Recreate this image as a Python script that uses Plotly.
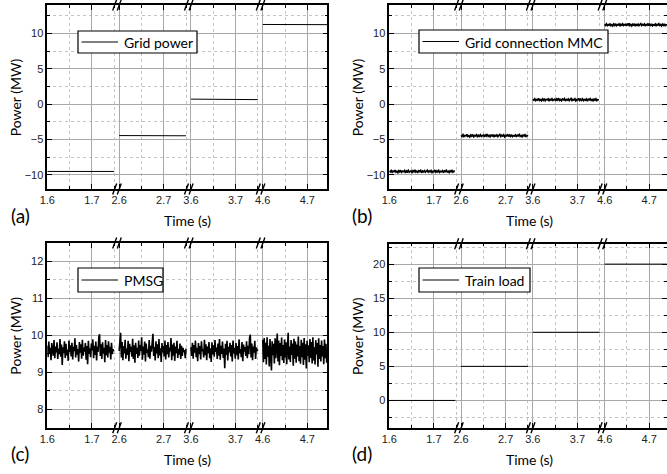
import numpy as np
import plotly.graph_objects as go

W, H = 667, 474

# ---------------- data ----------------
seg_starts = [1.6, 2.6, 3.6, 4.6]

grid_power_end = [1.75, 2.75, 3.75, 4.745]
grid_power = [[-9.52, -9.52], [-4.45, -4.48], [0.70, 0.63], [11.25, 11.22]]

mmc_end = [1.747, 2.75, 3.748, 4.74]
mmc_seg1 = [-9.44, -9.58, -9.39, -9.63, -9.47, -9.55, -9.33, -9.61, -9.50, -9.68, -9.42, -9.57, -9.36, -9.64,
            -9.49, -9.53, -9.40, -9.72, -9.46, -9.59, -9.38, -9.62, -9.51, -9.45, -9.66, -9.41, -9.56, -9.30,
            -9.60, -9.48, -9.65, -9.43, -9.54, -9.37, -9.70, -9.47, -9.58, -9.42, -9.63, -9.52, -9.35, -9.61,
            -9.46, -9.57, -9.40, -9.67, -9.49, -9.55, -9.32, -9.62, -9.44, -9.59, -9.38, -9.64, -9.50, -9.56,
            -9.41, -9.69, -9.45, -9.53, -9.36, -9.60, -9.48, -9.66, -9.43, -9.57, -9.39, -9.62, -9.47, -9.51]
mmc_seg2 = [-4.40, -4.55, -4.33, -4.58, -4.44, -4.50, -4.28, -4.57, -4.46, -4.63, -4.37, -4.52, -4.31, -4.60,
            -4.45, -4.49, -4.35, -4.67, -4.41, -4.54, -4.34, -4.58, -4.47, -4.39, -4.62, -4.36, -4.51, -4.25,
            -4.56, -4.43, -4.61, -4.38, -4.50, -4.32, -4.65, -4.42, -4.53, -4.37, -4.59, -4.48, -4.30, -4.57,
            -4.41, -4.52, -4.35, -4.63, -4.44, -4.50, -4.27, -4.58, -4.39, -4.55, -4.33, -4.60, -4.46, -4.51,
            -4.36, -4.64, -4.40, -4.48, -4.31, -4.56, -4.43, -4.61, -4.38, -4.52, -4.34, -4.58, -4.45, -4.55]
mmc_seg3 = [0.68, 0.54, 0.74, 0.50, 0.64, 0.57, 0.79, 0.51, 0.62, 0.46, 0.71, 0.55, 0.77, 0.49, 0.65, 0.60,
            0.73, 0.42, 0.67, 0.56, 0.75, 0.52, 0.63, 0.69, 0.47, 0.72, 0.58, 0.82, 0.53, 0.66, 0.48, 0.70,
            0.59, 0.76, 0.44, 0.66, 0.55, 0.71, 0.50, 0.61, 0.78, 0.52, 0.67, 0.57, 0.73, 0.45, 0.64, 0.58,
            0.80, 0.51, 0.69, 0.54, 0.74, 0.49, 0.63, 0.56, 0.72, 0.43, 0.68, 0.59, 0.76, 0.53, 0.65, 0.47,
            0.70, 0.55, 0.75, 0.50, 0.62, 0.58]
mmc_seg4 = [11.26, 11.12, 11.32, 11.08, 11.22, 11.15, 11.37, 11.09, 11.20, 11.04, 11.29, 11.13, 11.35, 11.07,
            11.23, 11.18, 11.31, 11.00, 11.25, 11.14, 11.33, 11.10, 11.21, 11.27, 11.05, 11.30, 11.16, 11.40,
            11.11, 11.24, 11.06, 11.28, 11.17, 11.34, 11.02, 11.24, 11.13, 11.29, 11.08, 11.19, 11.36, 11.10,
            11.25, 11.15, 11.31, 11.03, 11.22, 11.16, 11.38, 11.09, 11.27, 11.12, 11.32, 11.07, 11.21, 11.14,
            11.30, 11.01, 11.26, 11.17, 11.34, 11.11, 11.23, 11.05, 11.28, 11.13, 11.33, 11.08, 11.20, 11.16]
mmc_power = [mmc_seg1, mmc_seg2, mmc_seg3, mmc_seg4]

pmsg_end = [1.749, 2.75, 3.75, 4.745]
pmsg_seg1 = [9.72, 9.41, 9.83, 9.50, 9.66, 9.33, 9.79, 9.58, 9.45, 9.87, 9.38, 9.70, 9.54, 9.81, 9.36, 9.64,
             9.49, 9.90, 9.42, 9.75, 9.20, 9.68, 9.52, 9.84, 9.39, 9.77, 9.46, 9.61, 9.31, 9.86, 9.55, 9.73,
             9.43, 9.80, 9.35, 9.69, 9.57, 9.92, 9.40, 9.74, 9.48, 9.63, 9.29, 9.82, 9.53, 9.76, 9.37, 9.88,
             9.45, 9.67, 9.56, 9.79, 9.34, 9.71, 9.22, 9.85, 9.50, 9.65, 9.41, 9.78, 9.59, 9.89, 9.38, 9.72,
             9.47, 9.83, 9.32, 9.70, 9.55, 9.96, 10.03, 9.44, 9.76, 9.36, 9.81, 9.51, 9.66, 9.27, 9.87, 9.46,
             9.74, 9.40, 9.84, 9.53, 9.69, 9.35, 9.80, 9.49, 9.62, 9.57]
pmsg_seg2 = [9.58, 9.75, 10.07, 9.40, 9.82, 9.33, 9.71, 9.52, 9.88, 9.37, 9.64, 9.47, 9.85, 9.30, 9.77, 9.55,
             9.69, 9.42, 9.91, 9.36, 9.73, 9.26, 9.80, 9.50, 9.66, 9.39, 9.86, 9.45, 9.74, 9.58, 9.95, 9.34,
             9.70, 9.48, 9.83, 9.29, 9.78, 9.53, 9.62, 9.41, 9.87, 9.37, 9.72, 9.56, 9.81, 10.04, 9.44, 9.68,
             9.32, 9.84, 9.51, 9.76, 9.38, 9.90, 9.46, 9.65, 9.28, 9.79, 9.54, 9.71, 9.43, 9.86, 9.35, 9.74,
             9.49, 9.82, 9.40, 9.67, 9.57, 9.93, 9.33, 9.75, 9.45, 9.80, 9.31, 9.70, 9.52, 9.85, 9.39, 9.63,
             9.48, 9.78, 9.36, 9.72, 9.44, 9.66, 9.55, 9.60, 9.38, 9.64]
pmsg_seg3 = [9.68, 9.44, 9.80, 9.37, 9.74, 9.53, 9.86, 9.41, 9.66, 9.30, 9.79, 9.49, 9.71, 9.35, 9.84, 9.57,
             9.63, 9.40, 9.88, 9.46, 9.76, 9.33, 9.70, 9.52, 9.82, 9.38, 9.65, 9.28, 9.81, 9.48, 9.73, 9.42,
             9.87, 9.55, 9.67, 9.36, 9.78, 9.45, 9.90, 9.34, 9.72, 9.50, 9.83, 9.39, 9.64, 9.11, 9.77, 9.47,
             9.85, 9.32, 9.69, 9.54, 9.80, 9.43, 9.74, 9.29, 9.86, 9.51, 9.66, 9.37, 9.79, 9.46, 9.71, 9.35,
             9.89, 9.52, 9.63, 9.41, 9.82, 9.30, 9.75, 9.56, 9.68, 9.44, 9.84, 9.38, 9.72, 9.49, 9.93, 10.02,
             9.40, 9.78, 9.33, 9.70, 9.53, 9.85, 9.36, 9.67, 9.58, 9.62]
pmsg_seg4 = [9.88, 9.27, 9.93, 9.36, 9.80, 9.21, 9.95, 9.42, 9.72, 9.16, 9.90, 9.31, 9.05, 9.84, 9.46, 9.77,
             9.24, 9.92, 9.38, 9.69, 10.05, 9.29, 9.86, 9.19, 9.79, 9.44, 9.94, 9.33, 9.74, 9.25, 9.89, 9.40,
             9.81, 9.22, 9.96, 10.07, 9.35, 9.70, 9.28, 9.87, 9.47, 9.78, 9.18, 9.91, 9.37, 9.83, 9.26, 9.75,
             9.43, 9.97, 9.30, 9.71, 9.23, 9.88, 9.41, 9.80, 9.20, 9.93, 9.34, 9.76, 9.10, 9.85, 9.45, 9.73,
             9.27, 9.90, 9.39, 9.82, 9.24, 9.95, 9.32, 9.68, 9.21, 9.87, 9.48, 9.79, 9.15, 9.92, 9.36, 9.74,
             9.29, 9.86, 9.43, 9.71, 9.22, 9.89, 9.38, 9.77, 9.26, 9.55]
pmsg_power = [pmsg_seg1, pmsg_seg2, pmsg_seg3, pmsg_seg4]

train_end = [1.748, 2.75, 3.75, 4.74]
train_load = [[0, 0], [5, 5], [10, 10], [20, 20]]

series_names = ["Grid power", "Grid connection MMC", "PMSG", "Train load"]
panel_tags = ["(a)", "(b)", "(c)", "(d)"]

# ---------------- panel layout (pixels) ----------------
panels = [
    dict(ends=grid_power_end, vals=grid_power, box=(47.3, 327.4, 5, 189), lw=1.0,
         yrange=[-12, 14], dtick=5, minor=2.5, last=4.745, leg=(78, 31, 197, 53)),
    dict(ends=mmc_end, vals=mmc_power, box=(389.3, 667, 5, 189), lw=1.7,
         yrange=[-12, 14], dtick=5, minor=2.5, last=4.740, leg=(419, 30, 608, 53)),
    dict(ends=pmsg_end, vals=pmsg_power, box=(47.3, 327.4, 243, 427.7), lw=1.6,
         yrange=[7.5, 12.5], dtick=1, minor=0.5, last=4.745, leg=(78, 268, 163, 292)),
    dict(ends=train_end, vals=train_load, box=(389.3, 667, 243.7, 427.7), lw=1.0,
         yrange=[-4, 23], dtick=5, minor=2.5, last=4.740, leg=(419, 268, 530, 292)),
]

TICKFONT = dict(family="Liberation Sans, Arial", size=11, color="#222222")
TEXTFONT = "Lato, Noto Sans, sans-serif"
GRID = "#a8a8a8"
MINORGRID = "#c4c4c4"


def px(x):
    return x / W


def py(y):
    return 1 - y / H


fig = go.Figure()
layout = dict(width=W, height=H, margin=dict(l=0, r=0, t=0, b=0), showlegend=False,
              paper_bgcolor="white", plot_bgcolor="white", hovermode=False)
shapes = []
annotations = []

for p, pan in enumerate(panels):
    left, right, top, bot = pan["box"]
    ranges = []
    for k, s in enumerate(seg_starts):
        r0 = s if k == 0 else s - 0.003
        r1 = pan["last"] if k == 3 else s + 0.158
        ranges.append((r0, r1))
    spans = [r1 - r0 for r0, r1 in ranges]
    tot = sum(spans)
    edges = [left]
    for sp in spans:
        edges.append(edges[-1] + (right - left) * sp / tot)

    ymain = p + 1
    yright = p + 5

    for k in range(4):
        n = 4 * p + k + 1
        vals = pan["vals"][k]
        t = np.linspace(seg_starts[k], pan["ends"][k], len(vals))
        fig.add_trace(go.Scatter(
            x=t, y=vals, mode="lines", line=dict(color="black", width=pan["lw"]),
            name=series_names[p], xaxis=f"x{n}", yaxis=f"y{ymain}", hoverinfo="skip"))
        layout[f"xaxis{n}"] = dict(
            domain=[px(edges[k]), px(edges[k + 1])], range=list(ranges[k]),
            anchor=f"y{ymain}", side="bottom", automargin=False,
            tick0=seg_starts[k], dtick=0.1, tickformat=".1f",
            ticks="inside", ticklen=5, tickwidth=1, tickcolor="black",
            showline=True, linecolor="black", linewidth=1.5, mirror="ticks",
            showgrid=True, gridcolor=GRID, gridwidth=1, zeroline=False,
            minor=dict(tick0=seg_starts[k], dtick=0.05, ticks="inside", ticklen=3,
                       tickcolor="black", showgrid=True, gridcolor=MINORGRID,
                       griddash="dot", gridwidth=1),
            tickfont=TICKFONT, fixedrange=True)

    # empty trace so that the right-hand tick axis gets its subplot
    fig.add_trace(go.Scatter(x=[], y=[], xaxis=f"x{4 * p + 4}", yaxis=f"y{yright}", hoverinfo="skip"))

    ydom = [py(bot), py(top)]
    layout[f"yaxis{ymain}"] = dict(
        domain=ydom, range=pan["yrange"], anchor=f"x{4 * p + 1}", side="left", automargin=False,
        tick0=0, dtick=pan["dtick"], ticks="inside", ticklen=5, tickwidth=1, tickcolor="black",
        showline=True, linecolor="black", linewidth=1.5, mirror=False,
        showgrid=True, gridcolor=GRID, gridwidth=1, zeroline=False,
        minor=dict(tick0=0, dtick=pan["minor"], ticks="inside", ticklen=3, tickcolor="black",
                   showgrid=True, gridcolor=MINORGRID, griddash="dot", gridwidth=1),
        tickfont=TICKFONT, fixedrange=True)
    layout[f"yaxis{yright}"] = dict(
        overlaying=f"y{ymain}", range=pan["yrange"], anchor=f"x{4 * p + 4}", side="right",
        automargin=False, tick0=0, dtick=pan["dtick"], ticks="inside", ticklen=5, tickwidth=1,
        tickcolor="black", showticklabels=False, showline=True, linecolor="black", linewidth=1.5,
        showgrid=False, zeroline=False,
        minor=dict(tick0=0, dtick=pan["minor"], ticks="inside", ticklen=3, tickcolor="black",
                   showgrid=False),
        fixedrange=True)

    # legend box (white box, line sample, series name)
    lx0, ly0, lx1, ly1 = pan["leg"]
    lyc = (ly0 + ly1) / 2
    shapes.append(dict(type="rect", xref="paper", yref="paper", layer="above",
                       x0=px(lx0), x1=px(lx1), y0=py(ly1), y1=py(ly0),
                       fillcolor="white", line=dict(color="black", width=1.2)))
    shapes.append(dict(type="line", xref="paper", yref="paper", layer="above",
                       x0=px(lx0 + 3.5), x1=px(lx0 + 40), y0=py(lyc), y1=py(lyc),
                       line=dict(color="black", width=1)))
    annotations.append(dict(text=series_names[p], xref="paper", yref="paper", x=px(lx0 + 43.5), y=py(lyc + 0.5),
                            xanchor="left", yanchor="middle", showarrow=False,
                            font=dict(family=TEXTFONT, size=14, color="black")))

    # break marks "//" at segment joins, top and bottom
    for xb in edges[1:4]:
        for yb in (top, bot):
            for dx in (-2.3, 2.3):
                shapes.append(dict(type="line", xref="paper", yref="paper",
                                   x0=px(xb - 0.8 + dx - 2.0), y0=py(yb + 5.5),
                                   x1=px(xb - 0.8 + dx + 2.0), y1=py(yb - 5.5),
                                   line=dict(color="black", width=1.4)))

    cx = (left + 327.4 - 47.3 + left) / 2
    annotations.append(dict(text="Time (s)", xref="paper", yref="paper", x=px(cx), y=py(bot + 32),
                            xanchor="center", yanchor="middle", showarrow=False,
                            font=dict(family=TEXTFONT, size=14, color="black")))
    annotations.append(dict(text="Power (MW)", xref="paper", yref="paper", x=px(left - 32),
                            y=py((top + bot) / 2), textangle=-90, xanchor="center", yanchor="middle",
                            showarrow=False, font=dict(family=TEXTFONT, size=14, color="black")))
    annotations.append(dict(text=panel_tags[p], xref="paper", yref="paper", x=px(left - 27), y=py(bot + 26),
                            xanchor="center", yanchor="middle", showarrow=False,
                            font=dict(family=TEXTFONT, size=19, color="black")))

layout["shapes"] = shapes
layout["annotations"] = annotations
fig.update_layout(**layout)
fig.write_html("out.html", config={"displayModeBar": False},
               post_script="document.body.style.margin='0px';")
